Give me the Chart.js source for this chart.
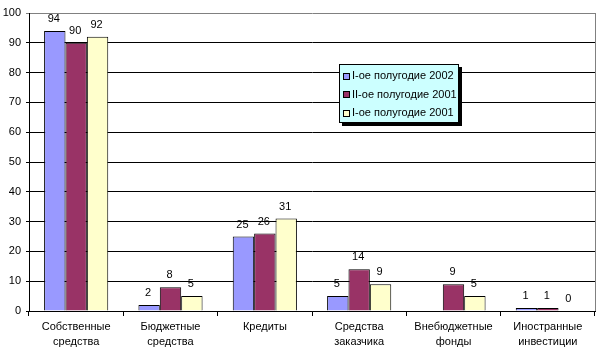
<!DOCTYPE html>
<html><head><meta charset="utf-8">
<script src="https://cdn.jsdelivr.net/npm/chart.js@4"></script>
<style>html,body{margin:0;padding:0;background:#fff}#w{width:602px;height:363px}</style>
</head><body><div id="w"><canvas id="c" width="602" height="363"></canvas></div>
<script>
const categories = [["Собственные","средства"],["Бюджетные","средства"],["Кредиты"],["Средства","заказчика"],["Внебюджетные","фонды"],["Иностранные","инвестиции"]];
const seriesNames = ["I-ое полугодие 2002","II-ое полугодие 2001","I-ое полугодие 2001"];
const h1_2002 = [94, 2, 25, 5, null, 1];
const h2_2001 = [90, 8, 26, 14, 9, 1];
const h1_2001 = [92, 5, 31, 9, 5, 0];
const colors = ["#9999FF","#993366","#FFFFCC"];
const FONT = "Liberation Sans, Arial, sans-serif";

const labelPlugin = {
  id:'vals',
  afterDatasetsDraw(chart){
    const ctx = chart.ctx;
    ctx.save();
    ctx.font = "11px " + FONT;
    ctx.fillStyle = "#000";
    ctx.textAlign = "center";
    ctx.textBaseline = "alphabetic";
    chart.data.datasets.forEach((ds, di) => {
      const meta = chart.getDatasetMeta(di);
      meta.data.forEach((bar, i) => {
        const v = ds.data[i];
        if (v === null || v === undefined) return;
        ctx.fillText(String(v), bar.x - 1, bar.y - 9);
      });
    });
    ctx.restore();
  }
};

const framePlugin = {
  id:'frame',
  afterDraw(chart){
    const ctx = chart.ctx, a = chart.chartArea;
    ctx.save();
    ctx.strokeStyle = "#808080";
    ctx.lineWidth = 1;
    ctx.beginPath();
    ctx.moveTo(Math.round(a.right)+0.5, a.top);
    ctx.lineTo(Math.round(a.right)+0.5, a.bottom);
    ctx.stroke();
    // legend
    const lx = 339, ly = 64, lw = 120, lh = 59;
    ctx.fillStyle = "#000";
    ctx.fillRect(lx+3, ly+3, lw, lh);
    ctx.fillStyle = "#CCFFFF";
    ctx.fillRect(lx, ly, lw, lh);
    ctx.strokeStyle = "#000";
    ctx.strokeRect(lx+0.5, ly+0.5, lw-1, lh-1);
    ctx.font = "11px " + FONT;
    ctx.textBaseline = "middle";
    ctx.textAlign = "left";
    seriesNames.forEach((n, i) => {
      const y = ly + 12 + i * 18.5;
      ctx.fillStyle = colors[i];
      ctx.fillRect(lx+4, Math.round(y-3.5), 7, 7);
      ctx.strokeStyle = "#000";
      ctx.strokeRect(lx+4.5, Math.round(y-3.5)+0.5, 6, 6);
      ctx.fillStyle = "#000";
      ctx.fillText(n, lx+13, y);
    });
    ctx.restore();
  }
};

new Chart(document.getElementById('c'), {
  type:'bar',
  data:{
    labels: categories,
    datasets: seriesNames.map((n, i) => ({
      label: n,
      data: [h1_2002, h2_2001, h1_2001][i],
      backgroundColor: colors[i],
      borderColor: "#000",
      borderWidth: 1,
      barPercentage: 1.0,
      categoryPercentage: 0.68
    }))
  },
  options:{
    responsive:false,
    animation:false,
    devicePixelRatio:1,
    layout:{padding:{top:13,right:7,left:0,bottom:0}},
    plugins:{legend:{display:false},tooltip:{enabled:false}},
    scales:{
      x:{
        offset:true,
        grid:{offset:true, drawOnChartArea:false, drawTicks:true, tickLength:5, color:"#000"},
        border:{color:"#000"},
        ticks:{color:"#000", font:{family:FONT,size:11,lineHeight:1.4}, padding:3, maxRotation:0, autoSkip:false},
        afterFit(s){ s.height = 52; }
      },
      y:{
        min:0,max:100,
        grid:{color:(c)=> c.tick && c.tick.value===100 ? "#808080" : "#000", tickLength:3},
        border:{color:"#000"},
        ticks:{stepSize:10, color:"#000", font:{family:FONT,size:11}, padding:5},
        afterFit(s){ s.width = 29; }
      }
    }
  },
  plugins:[labelPlugin, framePlugin]
});
</script></body></html>
